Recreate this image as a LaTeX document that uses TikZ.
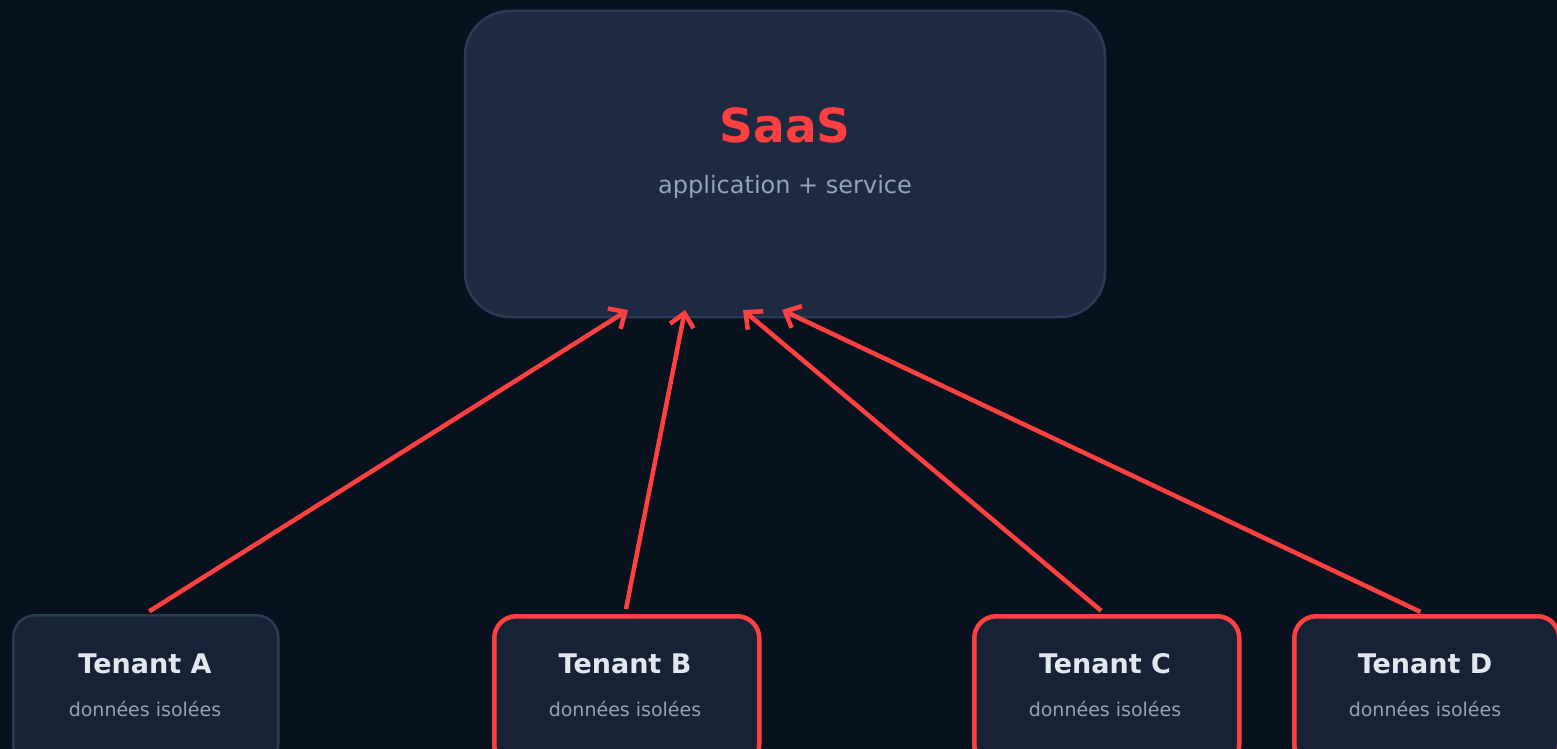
\documentclass[tikz,border=0pt]{standalone}
\usepackage{fontspec}
\setmainfont{DejaVu Sans}
\usetikzlibrary{arrows.meta}
\definecolor{bg}{HTML}{08111E}
\definecolor{saasfill}{HTML}{1E2A42}
\definecolor{saasline}{HTML}{2B3A55}
\definecolor{tfill}{HTML}{172236}
\definecolor{tline}{HTML}{2B3A55}
\definecolor{accent}{HTML}{FF4040}
\definecolor{ttext}{HTML}{E2E8F0}
\definecolor{stext}{HTML}{94A3B8}
\tikzset{
  saasbox/.style={draw=saasline, line width=2.5pt, fill=saasfill, rounded corners=45pt, minimum width=640pt, minimum height=306pt, inner sep=0pt},
  tenantbox/.style={fill=tfill, rounded corners=22pt, minimum width=265pt, minimum height=150pt, inner sep=0pt, anchor=north west},
  plainten/.style={tenantbox, draw=tline, line width=2.5pt},
  redten/.style={tenantbox, draw=accent, line width=4.5pt},
  ttitle/.style={font=\bfseries\fontsize{27}{30}\selectfont, text=ttext, inner sep=0pt},
  tsub/.style={font=\fontsize{19}{22}\selectfont, text=stext, inner sep=0pt},
  link/.style={draw=accent, line width=4.5pt, -{Straight Barb[length=13pt,width=24pt]}, shorten <=5pt}
}
\begin{document}
\begin{tikzpicture}[x=1pt,y=-1pt]
\clip (0,0) rectangle (1557,749);
\fill[bg] (0,0) rectangle (1557,749);
\node[saasbox] (saas) at (785,164) {};
\node[font=\bfseries\fontsize{47}{50}\selectfont, text=accent, inner sep=0pt] (saasT) at (785,125) {SaaS};
\node[font=\fontsize{24}{28}\selectfont, text=stext, inner sep=0pt] (saasS) at (785,187) {application + service};

\node[plainten] (tA) at (12,614) {};
\node[redten] (tB) at (492,614) {};
\node[redten] (tC) at (972,614) {};
\node[redten] (tD) at (1292,614) {};

\foreach \n/\l/\x in {A/A/145, B/B/625, C/C/1105, D/D/1425}{
  \node[ttitle] (t\n title) at (\x,664) {Tenant \l};
  \node[tsub] (t\n sub) at (\x,709) {données isolées};
}

\coordinate (pA) at (628,310);
\coordinate (pB) at (685,310);
\coordinate (pC) at (743,310);
\coordinate (pD) at (782,310);
\draw[link] (tA.north -| tAtitle) -- (pA);
\draw[link] (tB.north -| tBtitle) -- (pB);
\draw[link] (tC.north -| tCtitle) -- (pC);
\draw[link] (tD.north -| tDtitle) -- (pD);
\end{tikzpicture}
\end{document}
